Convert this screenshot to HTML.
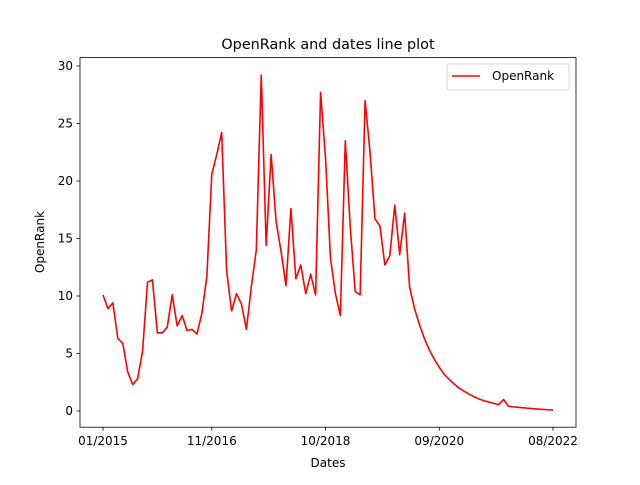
<!DOCTYPE html>
<html><head><meta charset="utf-8"><style>
body{margin:0;background:#fff}
text{font-family:"DejaVu Sans","Liberation Sans",sans-serif;fill:#000}
</style></head><body>
<svg id="chart" width="640" height="480" viewBox="0 0 640 480" xmlns="http://www.w3.org/2000/svg">
<rect width="640" height="480" fill="#fff"/>
<text x="328" y="49" font-size="14.4" text-anchor="middle">OpenRank and dates line plot</text>
<g id="ticks"></g>
<path id="line" fill="none" stroke="#ff0000" stroke-width="1.6" stroke-linejoin="round"/>
<rect x="80" y="57.6" width="496" height="369.6" fill="none" stroke="#000" stroke-width="0.8"/>
<text x="328" y="467" font-size="12" text-anchor="middle">Dates</text>
<text transform="translate(44,242) rotate(-90)" font-size="12" text-anchor="middle">OpenRank</text>
<g>
<rect x="447" y="64" width="122" height="26" rx="2" fill="#fff" stroke="#ccc" stroke-width="0.8"/>
<line x1="452" y1="76" x2="480" y2="76" stroke="#ff0000" stroke-width="1.6"/>
<text x="492" y="80" font-size="12">OpenRank</text>
</g>
</svg>
<script>
const values=[10.1,8.9,9.4,6.3,5.9,3.4,2.3,2.8,5.2,11.2,11.4,6.8,6.8,7.3,10.1,7.4,8.3,7.0,7.1,6.7,8.5,11.7,20.6,22.3,24.2,12.2,8.7,10.2,9.3,7.1,10.8,14.0,29.2,14.4,22.3,16.5,13.9,10.9,17.6,11.5,12.7,10.2,11.9,10.1,27.7,22.0,13.3,10.2,8.3,23.5,16.0,10.4,10.1,27.0,22.5,16.7,16.1,12.7,13.5,17.9,13.6,17.2,10.8,8.9,7.5,6.3,5.3,4.5,3.8,3.2,2.75,2.35,2.0,1.72,1.47,1.25,1.05,0.9,0.78,0.66,0.55,1.0,0.42,0.36,0.32,0.28,0.24,0.2,0.17,0.14,0.11,0.09];
const xTickLabels=["01/2015","11/2016","10/2018","09/2020","08/2022"];
const xTickIdx=[0,22,45,68,91];
const yTicks=[0,5,10,15,20,25,30];
const X=i=>103+i*(450/91);
const Y=v=>411-v*11.5;
const NS="http://www.w3.org/2000/svg";
const g=document.getElementById('ticks');
function mk(tag,attrs){const e=document.createElementNS(NS,tag);for(const k in attrs)e.setAttribute(k,attrs[k]);g.appendChild(e);return e;}
yTicks.forEach(v=>{
 const l=mk('line',{x1:76.5,x2:80,y1:Y(v),y2:Y(v),stroke:'#000','stroke-width':0.8});
 
 
 const t=mk('text',{x:73,y:Y(v)+4,'font-size':12,'text-anchor':'end'});
 t.textContent=v;
 
 
});
xTickIdx.forEach((idx,k)=>{
 const l=mk('line',{x1:X(idx),x2:X(idx),y1:427.2,y2:430.7,stroke:'#000','stroke-width':0.8});
 
 
 const t=mk('text',{x:X(idx),y:445,'font-size':12,'text-anchor':'middle'});
 t.textContent=xTickLabels[k];
 
 
});
document.getElementById('line').setAttribute('d',values.map((v,i)=>(i?'L':'M')+X(i).toFixed(2)+','+Y(v).toFixed(2)).join(''));
</script>
</body></html>
